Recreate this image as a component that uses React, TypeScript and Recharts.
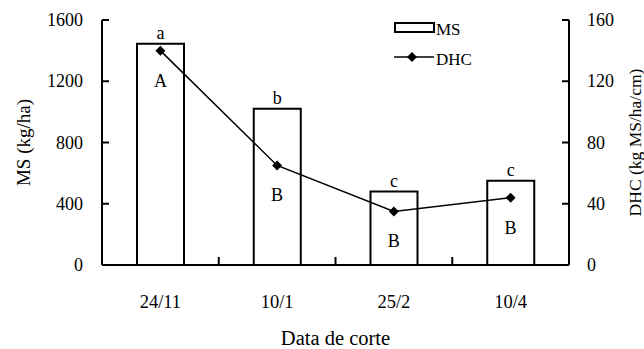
import React from "react";
import {
  ComposedChart, Bar, Line, XAxis, YAxis, LabelList, Legend,
} from "recharts";

const categories = ["24/11", "10/1", "25/2", "10/4"];
const msValues = [1445, 1020, 480, 550];
const dhcValues = [140, 65, 35, 44];
const msLetters = ["a", "b", "c", "c"];
const dhcLetters = ["A", "B", "B", "B"];
const msTicks = [0, 400, 800, 1200, 1600];
const dhcTicks = [0, 40, 80, 120, 160];

const FONT = "'Liberation Serif', 'Times New Roman', serif";
const W = 644;
const H = 349;
const M = { top: 20, right: 35, left: 40, bottom: 34 };
const LEFT_W = 62;
const RIGHT_W = 40;
const BAND = (W - M.left - M.right - LEFT_W - RIGHT_W) / categories.length;

const rows = categories.map((cat, i) => ({
  cat,
  ms: msValues[i],
  dhc: dhcValues[i],
  msLetter: msLetters[i],
  dhcLetter: dhcLetters[i],
}));

// x ticks: label under centre, small inward tick between categories
const XTick = (props: any) => {
  const { x, y, payload, index } = props;
  return (
    <g>
      {index < categories.length - 1 && (
        <line x1={x + BAND / 2} x2={x + BAND / 2} y1={y} y2={y - 8} stroke="#000" strokeWidth={2} />
      )}
      <text x={x} y={y + 43} textAnchor="middle" fontFamily={FONT} fontSize={18.5} fill="#000">
        {payload.value}
      </text>
    </g>
  );
};

const LeftTick = (props: any) => {
  const { x, y, payload } = props;
  return (
    <g>
      <line x1={x} x2={x + 7} y1={y} y2={y} stroke="#000" strokeWidth={2} />
      <text x={x - 19} y={y + 6} textAnchor="end" fontFamily={FONT} fontSize={18} fill="#000">
        {payload.value}
      </text>
    </g>
  );
};

const RightTick = (props: any) => {
  const { x, y, payload } = props;
  return (
    <g>
      <line x1={x} x2={x - 7} y1={y} y2={y} stroke="#000" strokeWidth={2} />
      <text x={x + 18} y={y + 6} textAnchor="start" fontFamily={FONT} fontSize={18} fill="#000">
        {payload.value}
      </text>
    </g>
  );
};

const Diamond = (props: any) => {
  const { cx, cy } = props;
  if (cx == null || cy == null) return null;
  return <path d={`M${cx},${cy - 5}L${cx + 5},${cy}L${cx},${cy + 5}L${cx - 5},${cy}Z`} fill="#000" />;
};

const LegendBox = () => (
  <svg width={100} height={60}>
    <rect x={4} y={8} width={39} height={9} fill="#fff" stroke="#000" strokeWidth={2} />
    <text x={45} y={20} fontFamily={FONT} fontSize={17} fill="#000">MS</text>
    <line x1={3} x2={43} y1={42} y2={42} stroke="#000" strokeWidth={1.5} />
    <path d="M21,37L26,42L21,47L16,42Z" fill="#000" />
    <text x={45} y={50} fontFamily={FONT} fontSize={17} fill="#000">DHC</text>
  </svg>
);

export default function App() {
  return (
    <div style={{ position: "absolute", left: 0, top: 0, width: W, height: H, background: "#fff" }}>
      <ComposedChart width={W} height={H} data={rows} margin={M}>
        <XAxis
          dataKey="cat" height={50} interval={0}
          axisLine={{ stroke: "#000", strokeWidth: 2 }}
          tickLine={false} tickSize={0} tickMargin={0}
          tick={<XTick />}
          label={{
            value: "Data de corte", position: "insideBottom", offset: -30,
            style: { fontFamily: FONT, fontSize: 20.5, fill: "#000" },
          }}
        />
        <YAxis
          yAxisId="ms" domain={[0, 1600]} ticks={msTicks} width={LEFT_W}
          axisLine={{ stroke: "#000", strokeWidth: 2 }}
          tickLine={false} tickSize={0} tickMargin={0}
          tick={<LeftTick />}
          label={{
            value: "MS (kg/ha)", angle: -90, position: "insideLeft", offset: -17,
            style: { fontFamily: FONT, fontSize: 19, fill: "#000", textAnchor: "middle" },
          }}
        />
        <YAxis
          yAxisId="dhc" orientation="right" domain={[0, 160]} ticks={dhcTicks} width={RIGHT_W}
          axisLine={{ stroke: "#000", strokeWidth: 2 }}
          tickLine={false} tickSize={0} tickMargin={0}
          tick={<RightTick />}
          label={{
            value: "DHC (kg MS/ha/cm)", angle: -90, position: "insideRight", offset: -26,
            style: { fontFamily: FONT, fontSize: 17.5, fill: "#000", textAnchor: "middle" },
          }}
        />
        <Legend
          layout="vertical" align="center" verticalAlign="middle"
          content={<LegendBox />}
          wrapperStyle={{ left: 391, top: 15, width: 100, height: 60 }}
        />
        <Bar
          yAxisId="ms" dataKey="ms" name="MS" barSize={47}
          fill="#fff" stroke="#000" strokeWidth={2}
          isAnimationActive={false}
        >
          <LabelList
            dataKey="msLetter" position="top" offset={5}
            style={{ fontFamily: FONT, fontSize: 18, fill: "#000" }}
          />
        </Bar>
        <Line
          yAxisId="dhc" dataKey="dhc" name="DHC" type="linear"
          stroke="#000" strokeWidth={1.5}
          dot={<Diamond />} activeDot={false}
          isAnimationActive={false}
        >
          <LabelList
            dataKey="dhcLetter"
            content={(p: any) => (
              <text x={p.x} y={p.y + 36} textAnchor="middle" fontFamily={FONT} fontSize={18} fill="#000">
                {p.value}
              </text>
            )}
          />
        </Line>
      </ComposedChart>
    </div>
  );
}
